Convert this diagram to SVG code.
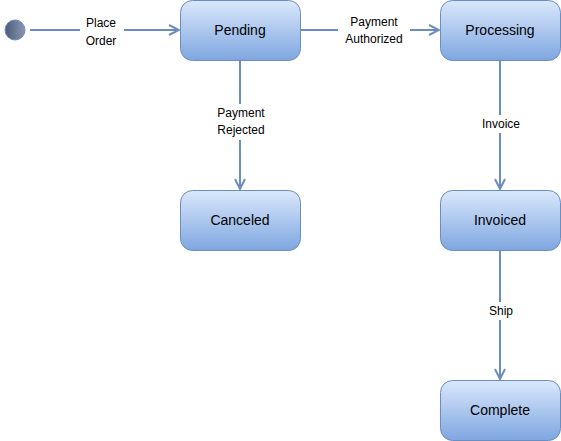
<svg xmlns="http://www.w3.org/2000/svg" width="561" height="441" viewBox="0 0 561 441">
<style>
.node{stroke:#6c8ebf;stroke-width:1;fill:url(#g)}
.nt{font-family:"Liberation Sans",Arial,sans-serif;font-size:14px;fill:#000;text-anchor:middle;dominant-baseline:central}
.e{stroke:#6c8ebf;stroke-width:2;fill:none;marker-end:url(#a)}
.lt{font-family:"Liberation Sans",Arial,sans-serif;font-size:12px;fill:#000;text-anchor:middle}
.lb{fill:#fff}
</style>
<defs>
<linearGradient id="g" x1="0" y1="0" x2="0" y2="1"><stop offset="0" stop-color="#dae8fc"/><stop offset="1" stop-color="#7ea6e0"/></linearGradient>
<linearGradient id="gc" x1="0" y1="0" x2="1" y2="0"><stop offset="0" stop-color="#4a5a78"/><stop offset="1" stop-color="#8a97b3"/></linearGradient>
<marker id="a" viewBox="0 0 12 12" refX="11" refY="6" markerWidth="12" markerHeight="12" markerUnits="userSpaceOnUse" orient="auto"><path d="M1,1 L11,6 L1,11" fill="none" stroke="#6c8ebf" stroke-width="2"/></marker>
</defs>
<g id="connectors">
<path class="e" d="M30,30 H179"/>
<path class="e" d="M300,30 H439"/>
<path class="e" d="M240,60 V189"/>
<path class="e" d="M500,60 V189"/>
<path class="e" d="M500,250 V379"/>
<rect class="lb" x="80" y="15" width="44" height="32"/>
<text class="lt" x="101" y="27">Place</text><text class="lt" x="101" y="45">Order</text>
<rect class="lb" x="338" y="14" width="72" height="32"/>
<text class="lt" x="374" y="26">Payment</text><text class="lt" x="374" y="43">Authorized</text>
<rect class="lb" x="210" y="104" width="62" height="36"/>
<text class="lt" x="241" y="117">Payment</text><text class="lt" x="241" y="134">Rejected</text>
<rect class="lb" x="477" y="115" width="48" height="18"/>
<text class="lt" x="501" y="128">Invoice</text>
<rect class="lb" x="484" y="302" width="34" height="18"/>
<text class="lt" x="501" y="315">Ship</text>
</g>
<g id="start"><circle cx="15" cy="30" r="10" fill="url(#gc)" stroke="#6c8ebf" stroke-width="1"/></g>
<g id="pending"><rect class="node" x="180.5" y="0.5" width="120" height="60" rx="12"/><text class="nt" x="240" y="30">Pending</text></g>
<g id="processing"><rect class="node" x="440.5" y="0.5" width="120" height="60" rx="12"/><text class="nt" x="500" y="30">Processing</text></g>
<g id="canceled"><rect class="node" x="180.5" y="190.5" width="120" height="60" rx="12"/><text class="nt" x="240" y="220">Canceled</text></g>
<g id="invoiced"><rect class="node" x="440.5" y="190.5" width="120" height="60" rx="12"/><text class="nt" x="500" y="220">Invoiced</text></g>
<g id="complete"><rect class="node" x="440.5" y="380.5" width="120" height="60" rx="12"/><text class="nt" x="500" y="410">Complete</text></g>
</svg>
